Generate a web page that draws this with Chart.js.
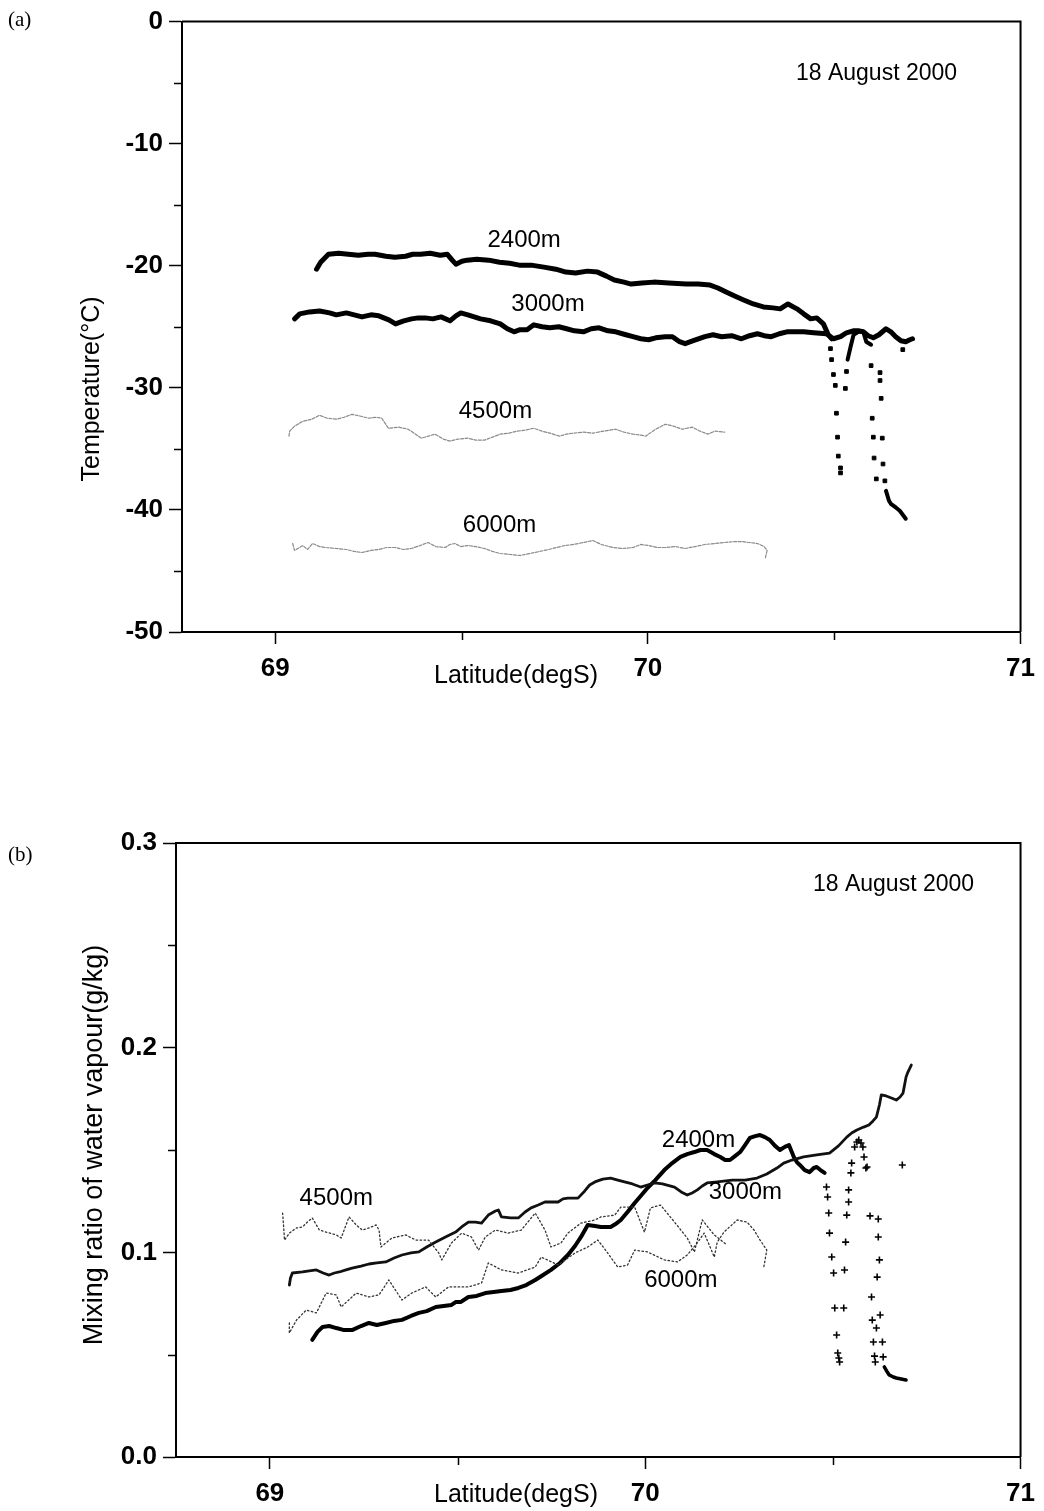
<!DOCTYPE html>
<html>
<head>
<meta charset="utf-8">
<script src="https://cdn.jsdelivr.net/npm/chart.js@4.4.1/dist/chart.umd.min.js"></script>
<style>
  html, body { margin: 0; padding: 0; background: #ffffff; }
  #panelA { position: absolute; left: 0; top: 0; }
  #panelB { position: absolute; left: 0; top: 760px; }
</style>
</head>
<body>
<canvas id="panelA" width="1044" height="720"></canvas>
<canvas id="panelB" width="1044" height="751"></canvas>
<script>
// ---------------- Temperature (deg C) against latitude (degS) ----------------
const temp2400 = [
  [69.111,-20.28],[69.122,-19.71],[69.143,-19.06],[69.170,-18.97],[69.196,-19.06],[69.223,-19.14],
  [69.249,-19.06],[69.268,-19.06],[69.297,-19.22],[69.321,-19.30],[69.350,-19.22],[69.369,-19.06],
  [69.390,-19.06],[69.416,-18.97],[69.443,-19.14],[69.462,-19.06],[69.475,-19.54],[69.485,-19.87],
  [69.501,-19.63],[69.515,-19.54],[69.541,-19.46],[69.573,-19.54],[69.602,-19.71],[69.629,-19.79],
  [69.655,-19.95],[69.687,-19.95],[69.721,-20.11],[69.753,-20.28],[69.780,-20.52],[69.806,-20.60],
  [69.838,-20.44],[69.865,-20.52],[69.889,-20.85],[69.910,-21.17],[69.936,-21.34],[69.955,-21.50],
  [69.984,-21.42],[70.016,-21.34],[70.056,-21.42],[70.103,-21.50],[70.135,-21.50],[70.167,-21.58],
  [70.188,-21.82],[70.210,-22.15],[70.233,-22.48],[70.257,-22.80],[70.283,-23.13],[70.310,-23.37],
  [70.336,-23.45],[70.355,-23.53],[70.376,-23.13],[70.400,-23.53],[70.418,-23.94],[70.437,-24.35],
  [70.453,-24.27],[70.471,-24.76],[70.484,-25.65],[70.493,-25.98]
];
const temp2400Rise = [
  [70.536,-27.69],[70.544,-26.63],[70.552,-25.65],[70.565,-25.41],[70.578,-25.41],[70.586,-26.22],[70.599,-26.47]
];
const temp2400Tail = [
  [70.639,-38.44],[70.647,-39.25],[70.652,-39.50],[70.666,-39.82],[70.676,-40.07],[70.692,-40.72]
];
const temp2400Sparse = [
  [70.490,-26.79],[70.493,-27.69],[70.498,-28.91],[70.503,-29.80],[70.506,-32.08],[70.509,-34.04],
  [70.511,-35.59],[70.517,-36.56],[70.517,-36.97],[70.530,-30.05],[70.533,-28.66],
  [70.599,-28.18],[70.623,-28.75],[70.623,-29.40],[70.626,-30.86],[70.602,-32.49],[70.605,-34.04],
  [70.629,-34.12],[70.607,-35.75],[70.631,-36.24],[70.613,-37.46],[70.636,-37.62],[70.684,-26.87]
];
const temp3000 = [
  [69.052,-24.35],[69.066,-23.94],[69.092,-23.78],[69.119,-23.70],[69.146,-23.86],[69.164,-24.02],
  [69.191,-23.86],[69.212,-24.02],[69.233,-24.19],[69.257,-24.02],[69.278,-24.10],[69.305,-24.43],
  [69.323,-24.76],[69.345,-24.51],[69.366,-24.35],[69.384,-24.27],[69.402,-24.27],[69.423,-24.35],
  [69.445,-24.19],[69.469,-24.51],[69.485,-24.10],[69.498,-23.86],[69.517,-24.02],[69.551,-24.35],
  [69.578,-24.51],[69.604,-24.76],[69.623,-25.16],[69.641,-25.41],[69.657,-25.24],[69.676,-25.24],
  [69.694,-24.84],[69.716,-25.00],[69.737,-25.08],[69.761,-25.00],[69.782,-25.16],[69.803,-25.33],
  [69.827,-25.41],[69.848,-25.16],[69.869,-25.08],[69.893,-25.33],[69.914,-25.41],[69.941,-25.65],
  [69.960,-25.81],[69.981,-25.98],[70.002,-26.06],[70.021,-25.90],[70.047,-25.81],[70.066,-25.81],
  [70.085,-26.22],[70.100,-26.38],[70.122,-26.14],[70.153,-25.81],[70.175,-25.65],[70.198,-25.81],
  [70.225,-25.73],[70.251,-25.98],[70.273,-25.73],[70.294,-25.57],[70.312,-25.73],[70.331,-25.81],
  [70.353,-25.57],[70.373,-25.41],[70.397,-25.41],[70.418,-25.41],[70.445,-25.49],[70.479,-25.57],
  [70.498,-25.98],[70.517,-25.81],[70.533,-25.49],[70.551,-25.33],[70.567,-25.33],[70.578,-25.41],
  [70.591,-25.73],[70.605,-25.90],[70.620,-25.65],[70.639,-25.16],[70.652,-25.41],[70.665,-25.81],
  [70.679,-26.14],[70.692,-26.22],[70.703,-26.06],[70.710,-25.98]
];
const temp4500 = [
  [69.037,-33.96],[69.039,-33.55],[69.052,-33.14],[69.074,-32.74],[69.098,-32.57],[69.119,-32.25],
  [69.140,-32.49],[69.164,-32.57],[69.185,-32.41],[69.206,-32.17],[69.230,-32.33],[69.251,-32.49],
  [69.270,-32.41],[69.286,-32.49],[69.304,-33.31],[69.331,-33.22],[69.357,-33.39],[69.376,-33.79],
  [69.392,-34.12],[69.411,-33.96],[69.429,-33.79],[69.451,-34.20],[69.469,-34.36],[69.490,-34.20],
  [69.517,-34.12],[69.538,-34.28],[69.562,-34.28],[69.583,-34.04],[69.604,-33.79],[69.628,-33.71],
  [69.649,-33.55],[69.670,-33.47],[69.694,-33.31],[69.716,-33.55],[69.737,-33.71],[69.763,-33.96],
  [69.782,-33.79],[69.800,-33.71],[69.827,-33.63],[69.853,-33.71],[69.880,-33.55],[69.914,-33.39],
  [69.936,-33.63],[69.960,-33.79],[69.981,-33.87],[69.994,-33.96],[70.021,-33.39],[70.047,-32.98],
  [70.069,-33.14],[70.092,-33.39],[70.119,-33.22],[70.140,-33.55],[70.161,-33.79],[70.180,-33.55],
  [70.206,-33.63]
];
const temp6000 = [
  [69.047,-42.75],[69.052,-43.32],[69.074,-42.92],[69.087,-43.24],[69.100,-42.75],[69.119,-43.00],
  [69.137,-43.08],[69.164,-43.16],[69.191,-43.24],[69.212,-43.40],[69.233,-43.49],[69.257,-43.32],
  [69.278,-43.24],[69.299,-43.08],[69.323,-43.08],[69.344,-43.24],[69.365,-43.16],[69.389,-42.92],
  [69.410,-42.67],[69.431,-43.00],[69.456,-43.08],[69.469,-42.83],[69.482,-42.75],[69.498,-43.00],
  [69.517,-42.92],[69.538,-43.00],[69.562,-43.16],[69.583,-43.40],[69.604,-43.57],[69.631,-43.65],
  [69.657,-43.73],[69.684,-43.57],[69.710,-43.40],[69.734,-43.24],[69.755,-43.08],[69.776,-42.92],
  [69.800,-42.83],[69.827,-42.67],[69.853,-42.51],[69.875,-42.83],[69.906,-43.08],[69.933,-43.16],
  [69.960,-43.08],[69.981,-42.83],[70.002,-42.92],[70.026,-43.08],[70.047,-43.08],[70.074,-43.00],
  [70.100,-43.16],[70.127,-43.00],[70.153,-42.83],[70.180,-42.75],[70.206,-42.67],[70.233,-42.59],
  [70.251,-42.59],[70.273,-42.67],[70.294,-42.75],[70.312,-43.00],[70.320,-43.32],[70.315,-43.97]
];

// ---------------- Mixing ratio of water vapour (g/kg) against latitude ----------------
const mix2400 = [
  [69.113,0.0572],[69.127,0.0611],[69.140,0.0635],[69.158,0.0640],[69.177,0.0630],[69.198,0.0620],
  [69.219,0.0620],[69.243,0.0640],[69.264,0.0655],[69.285,0.0645],[69.309,0.0655],[69.331,0.0665],
  [69.352,0.0670],[69.376,0.0689],[69.397,0.0704],[69.418,0.0713],[69.442,0.0733],[69.463,0.0738],
  [69.484,0.0743],[69.495,0.0757],[69.508,0.0757],[69.529,0.0782],[69.551,0.0787],[69.574,0.0801],
  [69.596,0.0806],[69.617,0.0811],[69.641,0.0816],[69.662,0.0826],[69.683,0.0840],[69.707,0.0865],
  [69.728,0.0889],[69.749,0.0914],[69.773,0.0948],[69.794,0.0987],[69.813,0.1031],[69.829,0.1075],
  [69.847,0.1134],[69.866,0.1129],[69.882,0.1124],[69.908,0.1124],[69.921,0.1138],[69.935,0.1158],
  [69.953,0.1197],[69.972,0.1241],[69.988,0.1275],[70.006,0.1314],[70.027,0.1353],[70.051,0.1402],
  [70.072,0.1436],[70.094,0.1466],[70.112,0.1480],[70.131,0.1490],[70.147,0.1500],[70.165,0.1500],
  [70.184,0.1480],[70.200,0.1466],[70.213,0.1451],[70.226,0.1451],[70.240,0.1471],[70.253,0.1490],
  [70.266,0.1524],[70.279,0.1559],[70.293,0.1568],[70.306,0.1573],[70.319,0.1563],[70.332,0.1549],
  [70.346,0.1520],[70.359,0.1500],[70.372,0.1515],[70.383,0.1524],[70.396,0.1466],[70.404,0.1441],
  [70.412,0.1427],[70.425,0.1402],[70.438,0.1392],[70.449,0.1412],[70.457,0.1417],[70.467,0.1402],
  [70.478,0.1388]
];
const mix2400Tail = [
  [70.637,0.0440],[70.645,0.0415],[70.650,0.0401],[70.661,0.0391],[70.669,0.0386],[70.682,0.0381],[70.695,0.0376]
];
const mix2400Sparse = [
  [70.483,0.1319],[70.486,0.1270],[70.489,0.1192],[70.491,0.1094],[70.497,0.0977],[70.502,0.0899],
  [70.505,0.0728],[70.510,0.0596],[70.513,0.0508],[70.516,0.0484],[70.518,0.0464],
  [70.529,0.0728],[70.531,0.0914],[70.534,0.1050],[70.537,0.1182],[70.542,0.1246],[70.542,0.1305],
  [70.548,0.1388],[70.550,0.1436],[70.558,0.1515],[70.564,0.1539],[70.569,0.1549],[70.575,0.1534],
  [70.580,0.1515],[70.583,0.1466],[70.591,0.1417],[70.588,0.1412],
  [70.599,0.1178],[70.621,0.1163],[70.621,0.1075],[70.624,0.0963],[70.618,0.0879],[70.603,0.0782],
  [70.626,0.0694],[70.605,0.0669],[70.616,0.0630],[70.608,0.0562],[70.632,0.0562],[70.611,0.0493],
  [70.634,0.0489],[70.613,0.0464],[70.685,0.1427]
];
const mix3000 = [
  [69.052,0.0840],[69.055,0.0875],[69.060,0.0899],[69.087,0.0904],[69.105,0.0909],[69.124,0.0914],
  [69.142,0.0899],[69.158,0.0889],[69.172,0.0899],[69.185,0.0904],[69.203,0.0914],[69.219,0.0923],
  [69.243,0.0933],[69.264,0.0943],[69.285,0.0948],[69.309,0.0953],[69.331,0.0972],[69.352,0.0987],
  [69.376,0.0997],[69.397,0.1002],[69.418,0.1026],[69.442,0.1050],[69.468,0.1075],[69.495,0.1099],
  [69.511,0.1124],[69.529,0.1148],[69.548,0.1148],[69.564,0.1143],[69.582,0.1182],[69.601,0.1202],
  [69.609,0.1207],[69.617,0.1173],[69.641,0.1168],[69.662,0.1168],[69.680,0.1197],[69.696,0.1217],
  [69.715,0.1231],[69.733,0.1246],[69.749,0.1246],[69.768,0.1246],[69.781,0.1261],[69.794,0.1265],
  [69.808,0.1265],[69.821,0.1265],[69.839,0.1300],[69.852,0.1329],[69.866,0.1344],[69.887,0.1358],
  [69.908,0.1363],[69.927,0.1353],[69.945,0.1344],[69.966,0.1334],[69.988,0.1319],[70.006,0.1329],
  [70.025,0.1339],[70.046,0.1334],[70.078,0.1319],[70.096,0.1295],[70.112,0.1280],[70.125,0.1290],
  [70.139,0.1305],[70.152,0.1324],[70.165,0.1339],[70.192,0.1344],[70.232,0.1353],[70.266,0.1353],
  [70.298,0.1363],[70.324,0.1383],[70.351,0.1412],[70.369,0.1436],[70.391,0.1451],[70.422,0.1466],
  [70.457,0.1476],[70.491,0.1485],[70.515,0.1520],[70.537,0.1563],[70.550,0.1583],[70.564,0.1598],
  [70.582,0.1612],[70.596,0.1622],[70.607,0.1642],[70.616,0.1661],[70.624,0.1720],[70.629,0.1769],
  [70.642,0.1764],[70.656,0.1754],[70.669,0.1744],[70.679,0.1759],[70.687,0.1778],[70.695,0.1857],
  [70.700,0.1881],[70.709,0.1915]
];
const mix4500 = [
  [69.034,0.1192],[69.037,0.1119],[69.039,0.1060],[69.052,0.1094],[69.071,0.1119],[69.087,0.1124],
  [69.100,0.1148],[69.113,0.1168],[69.132,0.1109],[69.150,0.1099],[69.177,0.1085],[69.190,0.1070],
  [69.211,0.1173],[69.230,0.1134],[69.246,0.1109],[69.264,0.1119],[69.283,0.1134],[69.291,0.1109],
  [69.296,0.1026],[69.325,0.1070],[69.362,0.1085],[69.389,0.1060],[69.423,0.1060],[69.450,0.0997],
  [69.458,0.0963],[69.484,0.1046],[69.511,0.1094],[69.537,0.1075],[69.556,0.1011],[69.574,0.1075],
  [69.601,0.1109],[69.635,0.1094],[69.670,0.1109],[69.707,0.1192],[69.733,0.1109],[69.749,0.1026],
  [69.776,0.1046],[69.794,0.1094],[69.829,0.1143],[69.866,0.1158],[69.882,0.1173],[69.919,0.1182],
  [69.935,0.1221],[69.972,0.1221],[69.998,0.1099],[70.014,0.1217],[70.041,0.1231],[70.078,0.1148],
  [70.112,0.1070],[70.131,0.1002],[70.152,0.1158],[70.184,0.1085],[70.218,0.1036]
];
const mix6000 = [
  [69.052,0.0655],[69.052,0.0606],[69.071,0.0669],[69.097,0.0718],[69.124,0.0704],[69.150,0.0801],
  [69.177,0.0792],[69.190,0.0733],[69.230,0.0801],[69.264,0.0782],[69.291,0.0792],[69.317,0.0865],
  [69.352,0.0767],[69.378,0.0801],[69.415,0.0831],[69.442,0.0782],[69.476,0.0831],[69.529,0.0831],
  [69.564,0.0850],[69.582,0.0948],[69.617,0.0914],[69.662,0.0899],[69.707,0.0928],[69.723,0.0977],
  [69.768,0.0938],[69.813,0.0997],[69.847,0.1026],[69.874,0.1060],[69.900,0.0997],[69.927,0.0928],
  [69.953,0.0938],[69.972,0.1011],[70.006,0.1002],[70.051,0.0963],[70.086,0.0953],[70.112,0.0987],
  [70.139,0.1046],[70.157,0.1094],[70.173,0.1026],[70.184,0.0977],[70.192,0.1050],[70.210,0.1099],
  [70.245,0.1158],[70.271,0.1148],[70.290,0.1109],[70.306,0.1060],[70.324,0.1011],[70.316,0.0928]
];

// Axis tick values
const latTicks = [69, 69.5, 70, 70.5, 71];
const tempTicks = [-50, -45, -40, -35, -30, -25, -20, -15, -10, -5, 0];
const mixTicks = [0, 0.05, 0.1, 0.15, 0.2, 0.25, 0.3];

// Curve labels: [text, latitude, value]
const tempLabels = [['2400m', 69.668, -17.9], ['3000m', 69.732, -23.2], ['4500m', 69.591, -31.9], ['6000m', 69.602, -41.3]];
const mixLabels = [['2400m', 70.142, 0.1549], ['3000m', 70.267, 0.1295], ['4500m', 69.177, 0.1266], ['6000m', 70.095, 0.0865]];

const pts = arr => arr.map(p => ({ x: p[0], y: p[1] }));
const isMajor = (v, step) => Math.abs(v / step - Math.round(v / step)) < 1e-6;

// Draws the closed frame, the short minor ticks and all annotation text
const panelDecor = {
  id: 'panelDecor',
  afterDraw(chart, args, o) {
    const { ctx, chartArea: a, scales } = chart;
    const xs = scales.x, ys = scales.y;
    ctx.save();
    ctx.strokeStyle = '#000';
    ctx.lineWidth = 2;
    ctx.beginPath();
    ctx.moveTo(a.left, a.top); ctx.lineTo(a.right, a.top); ctx.lineTo(a.right, a.bottom);
    ctx.stroke();

    ctx.lineWidth = 1.5;
    ctx.beginPath();
    o.yTicks.filter(v => !isMajor(v, o.yMajor)).forEach(v => {
      const py = Math.round(ys.getPixelForValue(v)) + 0.5;
      ctx.moveTo(a.left - 8, py); ctx.lineTo(a.left, py);
    });
    latTicks.filter(v => !isMajor(v, 1)).forEach(v => {
      const px = Math.round(xs.getPixelForValue(v)) + 0.5;
      ctx.moveTo(px, a.bottom); ctx.lineTo(px, a.bottom + 8);
    });
    ctx.stroke();

    ctx.fillStyle = '#000';
    ctx.textAlign = 'center';
    ctx.textBaseline = 'middle';
    ctx.font = '24px "Liberation Sans", Arial, sans-serif';
    o.labels.forEach(l => ctx.fillText(l[0], xs.getPixelForValue(l[1]), ys.getPixelForValue(l[2])));

    ctx.font = '23px "Liberation Sans", Arial, sans-serif';
    ctx.fillText('18 August 2000', a.right - o.dateRight, a.top + o.dateTop);

    ctx.font = '21px "Liberation Serif", "Times New Roman", serif';
    ctx.textAlign = 'left';
    ctx.fillText(o.letter, 8, o.letterY);

    ctx.textAlign = 'center';
    ctx.font = '25px "Liberation Sans", Arial, sans-serif';
    ctx.fillText('Latitude(degS)', 516, a.bottom + o.xTitleGap);

    ctx.translate(o.yTitleX, o.yTitleY);
    ctx.rotate(-Math.PI / 2);
    ctx.font = o.yTitleFont;
    ctx.fillText(o.yTitle, 0, 0);
    ctx.restore();
  }
};

function axes(area, canvasH, yMin, yMax, yTicks, yMajor, yFmt) {
  const tickFont = { family: '"Liberation Sans", Arial, sans-serif', size: 26, weight: 'bold' };
  return {
    x: {
      type: 'linear', min: 68.75, max: 71,
      afterBuildTicks: s => { s.ticks = latTicks.map(v => ({ value: v })); },
      afterFit: s => { s.height = canvasH - area.bottom; },
      ticks: {
        autoSkip: false, maxRotation: 0, padding: 9, color: '#000', font: tickFont,
        callback: v => isMajor(v, 1) ? String(Math.round(v)) : ''
      },
      grid: {
        drawOnChartArea: false, drawTicks: true, tickLength: 12, tickWidth: 1.5,
        tickColor: c => (c.tick && isMajor(c.tick.value, 1)) ? '#000' : 'rgba(0,0,0,0)'
      },
      border: { display: true, color: '#000', width: 2 }
    },
    y: {
      type: 'linear', min: yMin, max: yMax,
      afterBuildTicks: s => { s.ticks = yTicks.map(v => ({ value: v })); },
      afterFit: s => { s.width = area.left; },
      ticks: {
        autoSkip: false, padding: 6, color: '#000', font: tickFont,
        callback: v => isMajor(v, yMajor) ? yFmt(v) : ''
      },
      grid: {
        drawOnChartArea: false, drawTicks: true, tickLength: 13, tickWidth: 1.5,
        tickColor: c => (c.tick && isMajor(c.tick.value, yMajor)) ? '#000' : 'rgba(0,0,0,0)'
      },
      border: { display: true, color: '#000', width: 2 }
    }
  };
}

function lineSet(data, width, color, dash) {
  return { data: pts(data), showLine: true, borderColor: color, borderWidth: width, borderDash: dash || [],
           pointRadius: 0, fill: false, tension: 0, borderJoinStyle: 'round', borderCapStyle: 'round' };
}
function dotSet(data, style, r, w) {
  return { data: pts(data), showLine: false, pointStyle: style, pointRadius: r, borderWidth: w,
           borderColor: '#000', backgroundColor: '#000' };
}

const commonPlugins = { legend: { display: false }, tooltip: { enabled: false } };

// Panel (a): plot frame 182..1028 x 18..632
const areaA = { left: 182, top: 18, right: 1028, bottom: 632 };
new Chart(document.getElementById('panelA'), {
  type: 'scatter',
  data: { datasets: [
    lineSet(temp6000, 1.2, '#8a8a8a', [3, 1.5]),
    lineSet(temp4500, 1.2, '#8a8a8a', [3, 1.5]),
    lineSet(temp3000, 5, '#000'),
    lineSet(temp2400, 5, '#000'),
    lineSet(temp2400Rise, 4, '#000'),
    lineSet(temp2400Tail, 4, '#000'),
    dotSet(temp2400Sparse, 'rect', 2.6, 1)
  ]},
  options: {
    responsive: false, animation: false, devicePixelRatio: 1,
    layout: { padding: { left: 0, top: areaA.top, right: 1044 - areaA.right, bottom: 0 } },
    scales: axes(areaA, 720, -50, 0, tempTicks, 10, v => String(Math.round(v))),
    plugins: Object.assign({}, commonPlugins, { panelDecor: {
      yTicks: tempTicks, yMajor: 10, labels: tempLabels, letter: '(a)', letterY: 20,
      dateRight: 144, dateTop: 52, xTitleGap: 44,
      yTitle: 'Temperature(\u00B0C)', yTitleX: 92, yTitleY: 389,
      yTitleFont: '25px "Liberation Sans", Arial, sans-serif'
    }})
  },
  plugins: [panelDecor]
});

// Panel (b): plot frame 176..1025 x 83..697 (page 843..1457)
const areaB = { left: 176, top: 83, right: 1025, bottom: 697 };
new Chart(document.getElementById('panelB'), {
  type: 'scatter',
  data: { datasets: [
    lineSet(mix6000, 1.3, '#333', [1.5, 2.5]),
    lineSet(mix4500, 1.3, '#333', [1.5, 2.5]),
    lineSet(mix3000, 2.8, '#111'),
    lineSet(mix2400, 4, '#000'),
    lineSet(mix2400Tail, 3.5, '#000'),
    dotSet(mix2400Sparse, 'cross', 3.5, 1.6)
  ]},
  options: {
    responsive: false, animation: false, devicePixelRatio: 1,
    layout: { padding: { left: 0, top: areaB.top, right: 1044 - areaB.right, bottom: 0 } },
    scales: axes(areaB, 751, 0, 0.3, mixTicks, 0.1, v => v.toFixed(1)),
    plugins: Object.assign({}, commonPlugins, { panelDecor: {
      yTicks: mixTicks, yMajor: 0.1, labels: mixLabels, letter: '(b)', letterY: 95,
      dateRight: 127, dateTop: 42, xTitleGap: 38,
      yTitle: 'Mixing ratio of water vapour(g/kg)', yTitleX: 95, yTitleY: 385,
      yTitleFont: '27px "Liberation Sans", Arial, sans-serif'
    }})
  },
  plugins: [panelDecor]
});
</script>
</body>
</html>
